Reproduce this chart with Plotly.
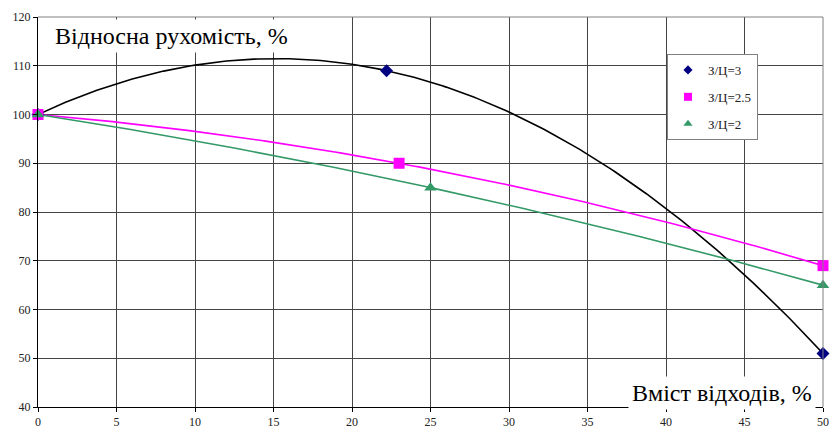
import numpy as np
import plotly.graph_objects as go

# Data
x_s1 = [0, 22.2, 50]
y_s1 = [100, 109, 51]
x_s2 = [0, 23, 50]
y_s2 = [100, 90, 69]
x_s3 = [0, 25, 50]
y_s3 = [100, 85, 65]
names = ["З/Ц=3", "З/Ц=2.5", "З/Ц=2"]
x_ticks = [0, 5, 10, 15, 20, 25, 30, 35, 40, 45, 50]
y_ticks = [40, 50, 60, 70, 80, 90, 100, 110, 120]

series = [
    (x_s1, y_s1, names[0], "diamond", "#000080", "#000000", 10, 7),
    (x_s2, y_s2, names[1], "square", "#FF00FF", "#FF00FF", 11, 8),
    (x_s3, y_s3, names[2], "triangle-up", "#339966", "#339966", 11, 8),
]

fig = go.Figure()
xs = np.linspace(0, 50, 201)
# polynomial (order 2) trendlines, as in the original chart
for xd, yd, nm, sym, mcol, lcol, ms, lms in series:
    coef = np.polyfit(xd, yd, 2)
    fig.add_trace(go.Scatter(x=xs, y=np.polyval(coef, xs), mode="lines",
                             line=dict(color=lcol, width=1.6), showlegend=False,
                             hoverinfo="skip"))
for xd, yd, nm, sym, mcol, lcol, ms, lms in series:
    fig.add_trace(go.Scatter(x=xd, y=yd, mode="markers", showlegend=False,
                             marker=dict(symbol=sym, color=mcol, size=ms), cliponaxis=False))
for i, (xd, yd, nm, sym, mcol, lcol, ms, lms) in enumerate(series):
    fig.add_trace(go.Scatter(x=[None], y=[None], mode="markers", name=nm,
                             legendgroup=f"g{i}",
                             marker=dict(symbol=sym, color=mcol, size=lms)))

font_serif = "Liberation Serif"
fig.update_layout(
    width=839, height=439,
    margin=dict(l=38, r=11, t=10, b=28),
    paper_bgcolor="white", plot_bgcolor="white",
    font=dict(family=font_serif, size=12, color="#222222"),
    showlegend=True,
    legend=dict(x=(671 - 38) / 790, y=1 - (48 - 10) / 401, xanchor="left", yanchor="top",
                bgcolor="white", bordercolor="#808080", borderwidth=1,
                font=dict(family=font_serif, size=13, color="#222222"),
                tracegroupgap=7, itemwidth=30),
    xaxis=dict(range=[0, 50], tickvals=x_ticks, ticktext=[str(v) for v in x_ticks],
               showgrid=True, gridcolor="#444444", gridwidth=1,
               showline=True, linecolor="#000000", linewidth=1,
               ticks="outside", ticklen=4, tickcolor="#000000", zeroline=False),
    yaxis=dict(range=[40, 120], tickvals=y_ticks, ticktext=[str(v) for v in y_ticks],
               showgrid=True, gridcolor="#444444", gridwidth=1,
               showline=True, linecolor="#000000", linewidth=1,
               ticks="outside", ticklen=4, tickcolor="#000000", zeroline=False),
)
fig.add_shape(type="line", xref="paper", yref="paper", x0=0, x1=1, y0=1, y1=1,
              line=dict(color="#808080", width=1))
fig.add_shape(type="line", xref="paper", yref="paper", x0=1, x1=1, y0=0, y1=1,
              line=dict(color="#808080", width=1))
fig.add_annotation(text="Відносна рухомість, %", xref="paper", yref="paper",
                   x=(51 - 38) / 790, y=1 - (30 - 10) / 401, xanchor="left", yanchor="middle",
                   showarrow=False, bgcolor="white", borderpad=3,
                   font=dict(family=font_serif, size=24, color="#000000"))
fig.add_annotation(text="Вміст відходів, %", xref="paper", yref="paper",
                   x=(821 - 38) / 790, y=1 - (397 - 10) / 401, xanchor="right", yanchor="middle",
                   showarrow=False, bgcolor="white", borderpad=3,
                   font=dict(family=font_serif, size=24, color="#000000"))

fig.write_html("out.html")
